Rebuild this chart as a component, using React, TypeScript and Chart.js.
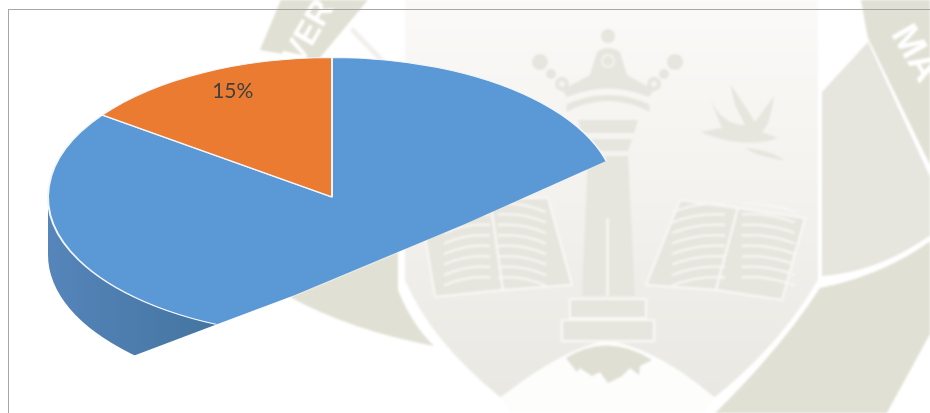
import React, { useEffect, useRef } from "react";
import { Chart, registerables } from "chart.js";

Chart.register(...registerables);

const categories = ["Resto", "Grupo"];
const values = [85, 15];
const sliceColors = ["#5b98d6", "#ea7b30"];
const labelText = ["", "15%"];

// Horizontal stretch of the tilted pie, thickness of its wall, and the torn edge of the picture.
const STRETCH = 285 / 140;
const DEPTH = 58;
const tornEdge: [number, number][] = [
  [930, 30], [606, 161], [465, 224], [295, 295], [215, 325], [133, 356], [0, 400], [0, 0], [930, 0],
];

const tiltPie = {
  id: "tiltPie",
  beforeDatasetsDraw(chart: any) {
    const ctx = chart.ctx;
    const arc = chart.getDatasetMeta(0).data[0];
    const cx = arc.x, cy = arc.y, r = arc.outerRadius, rx = r * STRETCH;
    ctx.save();
    ctx.beginPath();
    tornEdge.forEach(([x, y], i) => (i ? ctx.lineTo(x, y) : ctx.moveTo(x, y)));
    ctx.closePath();
    ctx.clip();
    const wall = ctx.createLinearGradient(cx - rx, 0, cx - rx + 170, 0);
    wall.addColorStop(0, "#5585ba");
    wall.addColorStop(1, "#44749f");
    ctx.fillStyle = wall;
    ctx.beginPath();
    ctx.ellipse(cx, cy, rx, r, 0, Math.PI, 0, true);
    ctx.lineTo(cx + rx, cy + DEPTH);
    ctx.ellipse(cx, cy + DEPTH, rx, r, 0, 0, Math.PI, false);
    ctx.closePath();
    ctx.fill();
    ctx.translate(cx, cy);
    ctx.scale(STRETCH, 1);
    ctx.translate(-cx, -cy);
  },
  afterDatasetsDraw(chart: any) {
    const ctx = chart.ctx;
    ctx.restore();
    chart.getDatasetMeta(0).data.forEach((arc: any, i: number) => {
      if (!labelText[i]) return;
      const mid = (arc.startAngle + arc.endAngle) / 2;
      ctx.save();
      ctx.font = '21px Lato, "Open Sans", sans-serif';
      ctx.fillStyle = "#404040";
      ctx.textAlign = "center";
      ctx.textBaseline = "middle";
      ctx.fillText(
        labelText[i],
        arc.x + Math.cos(mid) * arc.outerRadius * 0.77 * STRETCH,
        arc.y + Math.sin(mid) * arc.outerRadius * 0.85
      );
      ctx.restore();
    });
  },
};

const D = "#e0e0d4";
const M = "#e6e5de";

function pageLines(x1: number, x2: number, dir: number) {
  const out: React.ReactElement[] = [];
  for (let i = 0; i < 8; i++) {
    const y = 208 + i * 10.5;
    out.push(
      <path key={`${x1}-${i}`} d={`M${x1} ${y + dir * 4} Q${(x1 + x2) / 2} ${y - 6} ${x2} ${y - dir * 4}`} fill="none" stroke="#f7f6f3" strokeWidth="2.4" />
    );
  }
  return out;
}

function Watermark() {
  return (
    <svg width="930" height="413" viewBox="0 0 930 413" style={{ position: "absolute", left: 0, top: 0, filter: "blur(0.8px)" }}>
      <defs>
        <linearGradient id="shield" x1="0" y1="0" x2="0" y2="1">
          <stop offset="0" stopColor="#fbfaf8" />
          <stop offset="0.5" stopColor="#f3f2ee" />
          <stop offset="1" stopColor="#e9e8e3" />
        </linearGradient>
      </defs>
      <rect x="-5" y="-5" width="940" height="423" fill="#fff" />
      {/* outer rings */}
      <path d="M260 50 L283 -5 L372 -5 L318 60 Z" fill={D} />
      <path d="M860 -5 L935 -5 L935 175 L868 38 Z" fill={D} />
      <path d="M822 92 L868 42 L935 188 L935 232 Q880 272 822 276 Z" fill={M} />
      <path d="M820 288 Q885 275 935 238 L935 325 L884 418 L710 418 Q780 350 820 288 Z" fill={D} />
      <path d="M290 297 L398 252 L398 290 Q412 325 434 346 Q350 330 290 297 Z" fill={D} />
      <path d="M353 27 L385 60 L378 60 L350 31 Z" fill="#f1f0ec" />
      <path d="M445 55 L465 72 L440 75 Z" fill="#f1f0ec" />
      <text transform="translate(310 33) rotate(-60)" textAnchor="middle" dominantBaseline="middle" fontFamily="Liberation Sans" fontWeight="700" fontSize="33" fill="#fff">VER</text>
      <text transform="translate(914 54) rotate(60)" textAnchor="middle" dominantBaseline="middle" fontFamily="Liberation Sans" fontWeight="700" fontSize="38" fill="#fff">MA</text>
      {/* shield */}
      <path d="M405 -5 L818 -5 L818 280 Q780 345 715 397 L607 345 L500 397 Q430 340 405 280 Z" fill="url(#shield)" />
      <path d="M500 398 Q560 350 607 340 Q660 350 715 398 L700 418 L515 418 Z" fill="#fdfdfc" />
      {/* crown */}
      <g fill={M}>
        <circle cx="608" cy="36" r="7" />
        <circle cx="540" cy="62" r="8" />
        <circle cx="675" cy="62" r="8" />
        <circle cx="551" cy="74" r="5" />
        <circle cx="664" cy="74" r="5" />
        <circle cx="562" cy="84" r="7" />
        <circle cx="654" cy="84" r="7" />
        <path d="M562 90 L590 75 L597 52 Q608 44 620 52 L627 75 L654 90 L649 97 Q608 80 567 97 Z" />
        <path d="M566 112 Q608 90 650 112 L649 104 Q608 86 567 104 Z" />
        <path d="M578 120 L638 120 L634 133 L582 133 Z" />
        <path d="M584 139 L632 139 L628 151 L588 151 Z" />
        <path d="M588 156 L628 156 L635 296 L582 296 Z" />
      </g>
      <rect x="606" y="218" width="3" height="78" fill="#f5f4f0" />
      <circle cx="608" cy="61" r="6" fill="none" stroke="#f5f4f0" strokeWidth="2" />
      <circle cx="562" cy="84" r="3" fill="#f5f4f0" />
      <circle cx="654" cy="84" r="3" fill="#f5f4f0" />
      {/* birds */}
      <path d="M708 94 Q720 125 745 125 L735 105 L730 84 Q748 110 755 122 L774 96 Q770 125 762 132 L778 138 Q745 150 700 132 L722 128 Z" fill={M} />
      <path d="M745 148 Q770 150 785 160 Q760 158 745 148 Z" fill={M} />
      {/* books */}
      <g fill={M} stroke="#f8f7f4" strokeWidth="2.4">
        <path d="M420 205 L490 198 L503 290 L435 297 Z" />
        <path d="M490 198 L548 198 L572 285 L503 290 Z" />
        <path d="M646 285 L680 200 L738 208 L716 290 Z" />
        <path d="M738 208 L805 218 L782 300 L716 290 Z" />
      </g>
      {pageLines(444, 490, 1)}
      {pageLines(498, 546, -1)}
      {pageLines(672, 725, 1)}
      {pageLines(742, 795, -1)}
      {/* base */}
      <g fill={M} stroke="#f8f7f4" strokeWidth="2.4">
        <rect x="570" y="299" width="76" height="19" />
        <rect x="562" y="320" width="92" height="21" />
      </g>
      <path d="M566 358 Q608 332 652 360 L640 366 L639 375 L630 368 L622 376 L608 383 L600 372 L592 376 L580 368 L577 372 Z" fill="#dfdfd4" />
    </svg>
  );
}

export default function App() {
  const ref = useRef<HTMLCanvasElement>(null);
  useEffect(() => {
    const chart = new Chart(ref.current!, {
      type: "pie",
      data: {
        labels: categories,
        datasets: [
          {
            data: values,
            backgroundColor: sliceColors,
            borderColor: "#f2f6fb",
            borderWidth: 1,
            clip: false,
          } as any,
        ],
      },
      options: {
        responsive: false,
        animation: false,
        layout: { padding: { top: 57, bottom: 76, left: 192, right: 458 } },
        plugins: { legend: { display: false }, tooltip: { enabled: false } },
      },
      plugins: [tiltPie],
    });
    return () => chart.destroy();
  }, []);
  return (
    <div style={{ position: "absolute", left: 0, top: 0, width: 930, height: 413, overflow: "hidden" }}>
      <Watermark />
      <div style={{ position: "absolute", left: 8, top: 9, width: 1000, height: 500, border: "1px solid #a6a6a6", boxSizing: "border-box" }} />
      <canvas ref={ref} width={930} height={413} style={{ position: "absolute", left: 0, top: 0, display: "block" }} />
    </div>
  );
}
